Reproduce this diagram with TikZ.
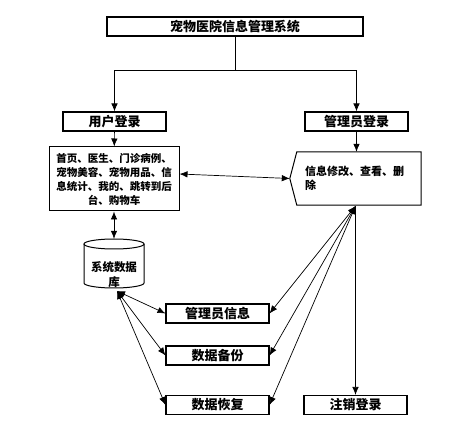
\documentclass[tikz,border=0pt]{standalone}
\usepackage{fontspec}
\setmainfont{Noto Sans CJK SC}
\usetikzlibrary{calc,arrows.meta}
\begin{document}
\begin{tikzpicture}[x=1pt,y=-1pt,
  box/.style={draw,line width=1.1pt,minimum width=103pt,minimum height=19pt,inner sep=0pt,font=\bfseries\fontsize{13}{13}\selectfont},
  link/.style={line width=0.7pt,-{Latex[length=8pt,width=6.5pt]}},
  dlink/.style={line width=0.7pt,{Latex[length=8pt,width=6.5pt]}-{Latex[length=8pt,width=6.5pt]}}]
  \useasboundingbox (0,0) rectangle (472,422);
  \node[box,minimum width=256pt] (title) at (235,26.5) {宠物医院信息管理系统};
  \node[box] (user) at (114.5,121.5) {用户登录};
  \node[box] (admin) at (356.5,121.5) {管理员登录};
  \node[draw,line width=1pt,minimum width=130pt,minimum height=64pt,inner sep=0pt,align=center,font=\bfseries\fontsize{10.5}{14}\selectfont] (menu) at (114,179) {首页、医生、门诊病例、\\宠物美容、宠物用品、信\\息统计、我的、跳转到后\\台、购物车};
  \node[text width=108pt,inner xsep=8pt,inner ysep=0pt,minimum height=53pt,align=left,font=\bfseries\fontsize{11}{14}\selectfont] (manage) at (359,178.5) {信息修改、查看、删\\除};
  \coordinate (mtip) at ($(manage.west)+(-7,0)$);
  \draw[line width=1pt] (manage.north west) -- (manage.north east) -- (manage.south east) -- (manage.south west) -- (mtip) -- cycle;
  \node[minimum width=60pt,minimum height=50pt,inner sep=0pt] (db) at (114,264) {};
  \draw[line width=1pt] (84,244) -- (84,283) arc[start angle=180,end angle=0,x radius=30,y radius=5] -- (144,244);
  \draw[line width=1pt] (114,244) ellipse [x radius=30,y radius=5];
  \node[align=center,font=\bfseries\fontsize{11.5}{15}\selectfont] (dbtxt) at (114,275) {系统数据\\库};
  \node[box] (info) at (217.5,313.5) {管理员信息};
  \node[box] (backup) at (217.5,355.5) {数据备份};
  \node[box] (restore) at (217.5,405) {数据恢复};
  \node[box] (logout) at (355.5,405) {注销登录};
  \coordinate (split) at (235,70);
  \coordinate (dbfoot) at (117,291);
  \coordinate (mfoot) at (355.5,206);
  \draw[line width=0.7pt] (title) -- (split);
  \draw[link] (split) -| (user);
  \draw[link] (split) -| (admin);
  \draw[link] (user) -- (menu);
  \draw[link] (admin) -- (admin |- manage.north);
  \draw[dlink] ([yshift=5pt]menu.east) -- (mtip);
  \draw[dlink] (menu) -- (db);
  \draw[dlink] (dbfoot) -- (info.west);
  \draw[dlink] (dbfoot) -- (backup.west);
  \draw[dlink] (dbfoot) -- (restore.west);
  \draw[dlink] (mfoot) -- (info.east);
  \draw[dlink] (mfoot) -- (backup.east);
  \draw[dlink] (mfoot) -- (restore.east);
  \draw[link] (mfoot) -- (logout);
\end{tikzpicture}
\end{document}
